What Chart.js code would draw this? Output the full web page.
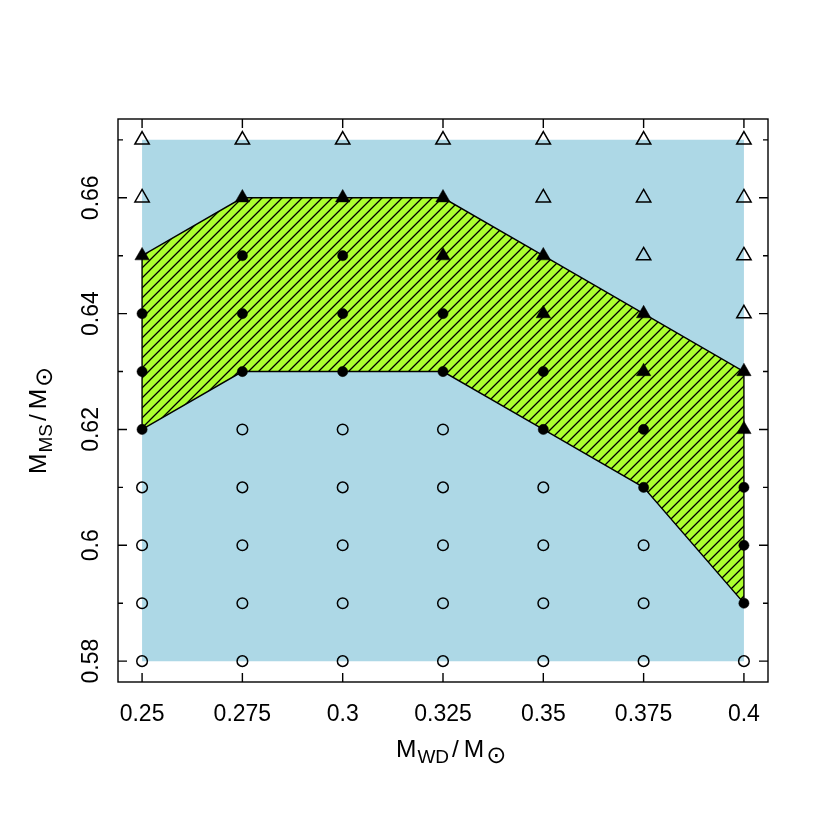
<!DOCTYPE html>
<html lang="en">
<head>
    <meta charset="UTF-8">
    <title>M_MS vs M_WD grid</title>
    <script src="https://cdn.jsdelivr.net/npm/chart.js@4.4.1/dist/chart.umd.min.js"></script>
    <style>
        body { margin: 0; background: #fff; }
        #wrap { width: 830px; height: 830px; }
    </style>
</head>
<body>
    <div id="wrap"><canvas id="chart" width="830" height="830"></canvas></div>

    <script>
        // grid of models
        const xVals = [0.25, 0.275, 0.3, 0.325, 0.35, 0.375, 0.4];
        const yVals = [0.58, 0.59, 0.60, 0.61, 0.62, 0.63, 0.64, 0.65, 0.66, 0.67];
        // marker per column, bottom (0.58) to top (0.67):
        // o = open circle, f = filled circle, F = filled triangle, T = open triangle
        const markerCodes = [
            'oooofffFTT',
            'ooooofffFT',
            'ooooofffFT',
            'oooooffFFT',
            'ooooffFFTT',
            'oooffFFTTT',
            'offfFFTTTT'
        ];

        // light blue box = explored region
        const boxX = [0.25, 0.4, 0.4, 0.25, 0.25];
        const boxY = [0.58, 0.58, 0.67, 0.67, 0.58];

        // hatched region
        const polyX = [0.25, 0.25, 0.275, 0.325, 0.35, 0.375, 0.4, 0.4, 0.375, 0.35, 0.325, 0.275, 0.25];
        const polyY = [0.62, 0.65, 0.66, 0.66, 0.65, 0.64, 0.63, 0.59, 0.61, 0.62, 0.63, 0.63, 0.62];

        // axes
        const xTicks = [0.25, 0.275, 0.3, 0.325, 0.35, 0.375, 0.4];
        const xTickLabels = ['0.25', '0.275', '0.3', '0.325', '0.35', '0.375', '0.4'];
        const yTicks = [0.58, 0.60, 0.62, 0.64, 0.66];
        const yTickLabels = ['0.58', '0.6', '0.62', '0.64', '0.66'];
        const yMinorTicks = [0.59, 0.61, 0.63, 0.65, 0.67];

        const FONT = "'Liberation Sans', Arial, sans-serif";

        function toPoints(xs, ys) {
            return xs.map((x, i) => ({ x: x, y: ys[i] }));
        }

        function pointsFor(code) {
            const pts = [];
            markerCodes.forEach((col, i) => {
                for (let j = 0; j < col.length; j++) {
                    if (col[j] === code) pts.push({ x: xVals[i], y: yVals[j] });
                }
            });
            return pts;
        }

        const ctx = document.getElementById('chart').getContext('2d');

        function makeHatch() {
            const s = 10;
            const c = document.createElement('canvas');
            c.width = s; c.height = s;
            const g = c.getContext('2d');
            g.fillStyle = '#ADFF2F';
            g.fillRect(0, 0, s, s);
            g.strokeStyle = '#000';
            g.lineWidth = 1.3;
            g.beginPath();
            g.moveTo(-1, s + 1); g.lineTo(s + 1, -1);
            g.moveTo(-1, 1); g.lineTo(1, -1);
            g.moveTo(s - 1, s + 1); g.lineTo(s + 1, s - 1);
            g.stroke();
            return ctx.createPattern(c, 'repeat');
        }

        // draws "M_sub / M_sun" starting at (0,0) on current transform
        function drawMassLabel(c, sub) {
            const big = '24.5px ' + FONT, small = '19px ' + FONT;
            let x = 0;
            c.textBaseline = 'alphabetic';
            c.textAlign = 'left';
            c.font = big; c.fillText('M', x, 0); x += c.measureText('M').width + 1;
            c.font = small; c.fillText(sub, x, 6); x += c.measureText(sub).width + 3;
            c.font = big; c.fillText('/', x, 0); x += c.measureText('/').width + 5;
            c.fillText('M', x, 0); x += c.measureText('M').width + 2;
            c.font = "24px 'DejaVu Sans', sans-serif"; c.fillText('\u2299', x, 6);
        }

        const axesPlugin = {
            id: 'rAxes',
            afterDraw(chart) {
                const c = chart.ctx;
                const a = chart.chartArea;
                const xs = chart.scales.x, ys = chart.scales.y;
                c.save();
                c.strokeStyle = '#000';
                c.fillStyle = '#000';
                c.lineWidth = 1.4;
                c.strokeRect(a.left, a.top, a.right - a.left, a.bottom - a.top);

                c.beginPath();
                xTicks.forEach(v => {
                    const px = xs.getPixelForValue(v);
                    c.moveTo(px, a.bottom); c.lineTo(px, a.bottom - 9);
                    c.moveTo(px, a.top); c.lineTo(px, a.top + 9);
                });
                yTicks.forEach(v => {
                    const py = ys.getPixelForValue(v);
                    c.moveTo(a.left, py); c.lineTo(a.left + 9, py);
                    c.moveTo(a.right, py); c.lineTo(a.right - 9, py);
                });
                yMinorTicks.forEach(v => {
                    const py = ys.getPixelForValue(v);
                    c.moveTo(a.left, py); c.lineTo(a.left + 5, py);
                    c.moveTo(a.right, py); c.lineTo(a.right - 5, py);
                });
                c.stroke();

                c.font = '23px ' + FONT;
                c.textAlign = 'center';
                c.textBaseline = 'alphabetic';
                xTicks.forEach((v, i) => {
                    c.fillText(xTickLabels[i], xs.getPixelForValue(v), a.bottom + 39);
                });
                yTicks.forEach((v, i) => {
                    c.save();
                    c.translate(a.left - 20, ys.getPixelForValue(v));
                    c.rotate(-Math.PI / 2);
                    c.fillText(yTickLabels[i], 0, 0);
                    c.restore();
                });

                // axis titles
                c.save();
                c.translate(396, a.bottom + 75);
                drawMassLabel(c, 'WD');
                c.restore();

                c.save();
                c.translate(46, 474);
                c.rotate(-Math.PI / 2);
                drawMassLabel(c, 'MS');
                c.restore();

                c.restore();
            }
        };

        new Chart(ctx, {
            type: 'scatter',
            data: {
                datasets: [
                    {
                        data: pointsFor('T'),
                        pointStyle: 'triangle',
                        pointRadius: 8.3,
                        backgroundColor: 'rgba(0,0,0,0)',
                        borderColor: '#000',
                        borderWidth: 1.5
                    },
                    {
                        data: pointsFor('F'),
                        pointStyle: 'triangle',
                        pointRadius: 8.3,
                        backgroundColor: '#000',
                        borderColor: '#000',
                        borderWidth: 0.5
                    },
                    {
                        data: pointsFor('f'),
                        pointStyle: 'circle',
                        pointRadius: 5.1,
                        backgroundColor: '#000',
                        borderColor: '#000',
                        borderWidth: 0.5
                    },
                    {
                        data: pointsFor('o'),
                        pointStyle: 'circle',
                        pointRadius: 5.3,
                        backgroundColor: 'rgba(0,0,0,0)',
                        borderColor: '#000',
                        borderWidth: 1.5
                    },
                    {
                        type: 'line',
                        data: toPoints(polyX, polyY),
                        fill: 'shape',
                        backgroundColor: makeHatch(),
                        borderColor: '#000',
                        borderWidth: 1.4,
                        pointRadius: 0,
                        tension: 0
                    },
                    {
                        type: 'line',
                        data: toPoints(boxX, boxY),
                        fill: 'shape',
                        backgroundColor: '#ADD8E6',
                        borderWidth: 0,
                        pointRadius: 0,
                        tension: 0
                    }
                ]
            },
            options: {
                responsive: false,
                animation: false,
                events: [],
                layout: { padding: { left: 118, right: 62, top: 119, bottom: 148 } },
                plugins: {
                    legend: { display: false },
                    tooltip: { enabled: false }
                },
                scales: {
                    x: { type: 'linear', min: 0.244, max: 0.406, display: false },
                    y: { type: 'linear', min: 0.5764, max: 0.6736, display: false }
                }
            },
            plugins: [axesPlugin]
        });
    </script>
</body>
</html>
